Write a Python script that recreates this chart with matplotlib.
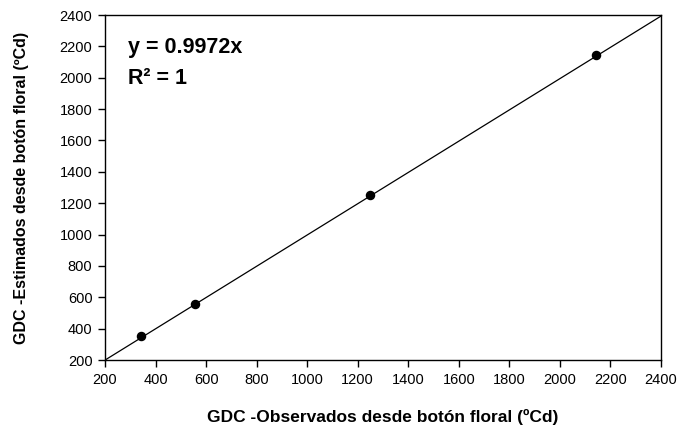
import matplotlib
matplotlib.use("Agg")
import matplotlib.pyplot as plt

plt.rcParams['font.family'] = ['Liberation Sans', 'DejaVu Sans']

observados = [342, 555, 1250, 2143]
estimados = [355, 560, 1255, 2145]
pendiente = 0.9972
ticks = list(range(200, 2401, 200))

fig = plt.figure(figsize=(6.79, 4.29), dpi=100)
ax = fig.add_axes([0.1546, 0.1608, 0.8189, 0.8042])

# linea de regresion y puntos
ax.plot([200, 2400], [200 * pendiente, 2400 * pendiente], color="black", linewidth=0.9)
ax.scatter(observados, estimados, s=34, color="black", zorder=3)

ax.set_xlim(200, 2400)
ax.set_ylim(200, 2400)
ax.set_xticks(ticks)
ax.set_yticks(ticks)
ax.tick_params(direction="out", length=5, labelsize=10.5, width=1, pad=4)
for sp in ax.spines.values():
    sp.set_linewidth(1)

ax.set_xlabel("GDC -Observados desde botón floral (ºCd)", fontsize=12.5, fontweight="bold")
ax.set_ylabel("GDC -Estimados desde botón floral (ºCd)", fontsize=11.5, fontweight="bold")
ax.xaxis.set_label_coords(0.5, -0.142)
ax.yaxis.set_label_coords(-0.137, 0.5)

ax.text(0.041, 0.907, "y = 0.9972x", transform=ax.transAxes, fontsize=15.5,
        fontweight="bold", va="center")
ax.text(0.041, 0.815, "R² = 1", transform=ax.transAxes, fontsize=15.5,
        fontweight="bold", va="center")

fig.savefig("out.png", dpi=100)
